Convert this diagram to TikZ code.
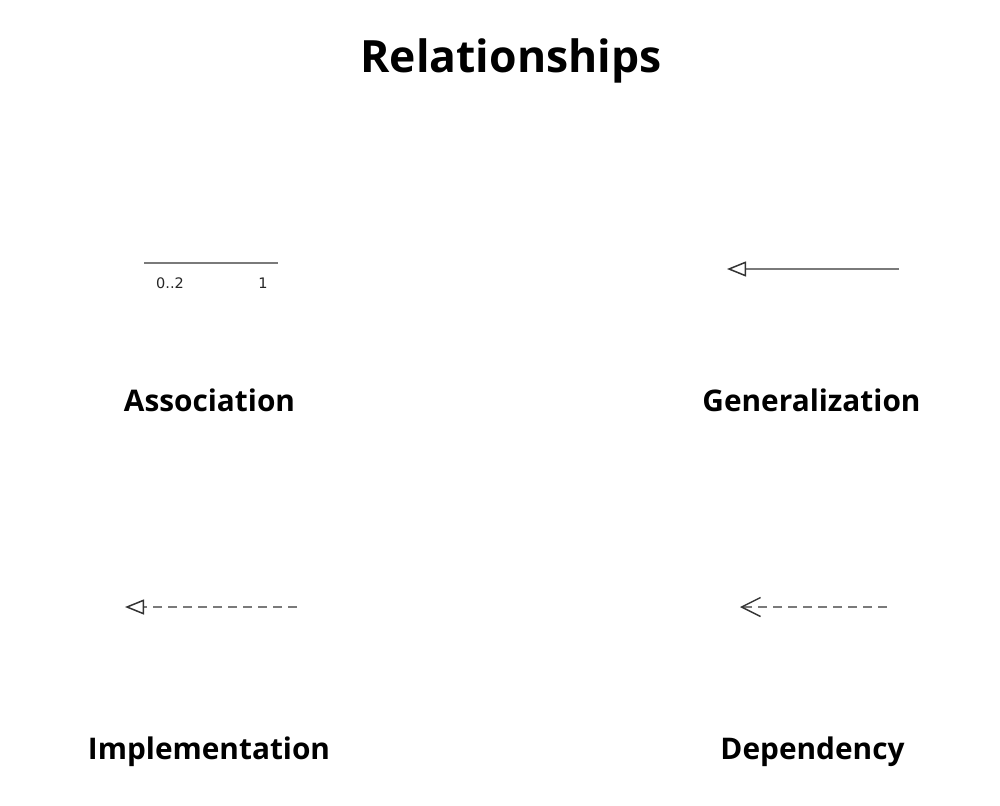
\documentclass[tikz,border=0pt]{standalone}
\usepackage{fontspec}
\setmainfont{Open Sans}
\newfontfamily\smallfont{DejaVu Sans}
\usetikzlibrary{arrows.meta}
\definecolor{linegray}{HTML}{7A7A7A}
\definecolor{tipgray}{HTML}{333333}
\tikzset{
  heading/.style={font=\fontsize{44.5}{50}\selectfont\bfseries, anchor=base, inner sep=0pt},
  label/.style={font=\fontsize{29.8}{34}\selectfont\bfseries, anchor=base, inner sep=0pt},
  mult/.style={font=\smallfont\fontsize{14.5}{17}\selectfont, text=black!85, anchor=base, inner sep=0pt},
  rel/.style={draw=linegray, line width=2pt},
  reldash/.style={rel, dash pattern=on 9pt off 6pt},
  gentip/.style={-{Triangle[open, length=19pt, width=15pt, line width=1.5pt, color=tipgray, fill=white]}},
  deptip/.style={-{Straight Barb[length=19pt, width=19pt, line width=1.4pt, color=tipgray]}},
}
\begin{document}
\begin{tikzpicture}[x=1pt,y=-1pt]
\useasboundingbox (0,0) rectangle (1000,805);
\node[heading] (title) at (511,73) {Relationships};

% Association
\coordinate (a1) at (144,263);
\coordinate (a2) at (278,263);
\draw[rel] (a1) -- (a2);
\node[mult] (m1) at (170,288) {0..2};
\node[mult] (m2) at (263,288) {1};
\node[label] (lassoc) at (209.5,411) {Association};

% Generalization
\coordinate (g1) at (899,269);
\coordinate (g2) at (727,269);
\draw[rel, gentip] (g1) -- (g2);
\node[label] (lgen) at (811.5,411) {Generalization};

% Implementation
\coordinate (i1) at (297,607);
\coordinate (i2) at (125,607);
\draw[reldash, gentip] (i1) -- (i2);
\node[label] (limpl) at (209,759) {Implementation};

% Dependency
\coordinate (d1) at (887,607);
\coordinate (d2) at (740,607);
\draw[reldash, deptip] (d1) -- (d2);
\node[label] (ldep) at (812.5,759) {Dependency};
\end{tikzpicture}
\end{document}
